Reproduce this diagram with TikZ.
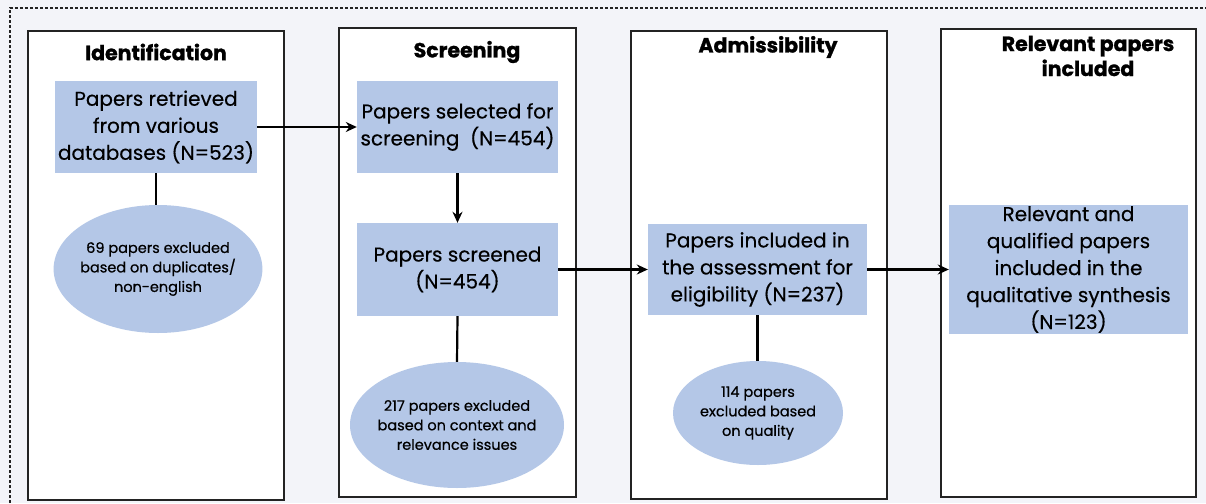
\documentclass[tikz,border=0pt]{standalone}
\usepackage{fontspec}
\setmainfont{Poppins}
\newfontfamily\boxfont{Poppins}[FakeBold=0.35]
\newfontfamily\exclfont{Poppins}[FakeBold=0.6]
\newfontfamily\headfont{Poppins}[BoldFeatures={FakeBold=1.2}]
\usetikzlibrary{arrows.meta,shapes.geometric}
\definecolor{boxblue}{RGB}{180,199,231}
\definecolor{bgcol}{RGB}{243,244,249}
\definecolor{frameline}{RGB}{35,35,35}
\begin{document}
\begin{tikzpicture}[x=1pt,y=-1pt,
  column/.style={draw=frameline, line width=2.2pt, fill=white, rectangle, inner sep=0pt},
  title/.style={font=\headfont\bfseries\fontsize{20.5}{25}\selectfont, align=center, inner sep=0pt},
  bluebox/.style={fill=boxblue, draw=none, rectangle, inner sep=0pt, align=center, font=\boxfont\fontsize{20}{27}\selectfont},
  excl/.style={fill=boxblue, draw=none, ellipse, inner sep=-4pt, align=center, font=\exclfont\fontsize{14.5}{19.5}\selectfont},
  arr/.style={line width=2.2pt, -{Stealth[length=11pt,width=10pt]}},
  link/.style={line width=2.2pt}
]
\useasboundingbox (0,0) rectangle (1206,503);
\fill[bgcol] (0,0) rectangle (1206,503);
\draw[frameline, line width=1.6pt, dash pattern=on 3pt off 2pt] (10,503) -- (10,8) -- (1206,8);

% columns
\node[column, minimum width=256pt, minimum height=469pt] (colA) at (156,265.5) {};
\node[column, minimum width=237pt, minimum height=469pt] (colB) at (457.5,262.5) {};
\node[column, minimum width=256pt, minimum height=468pt] (colC) at (759,265) {};
\node[column, minimum width=255pt, minimum height=468pt] (colD) at (1068.5,263) {};

% titles
\node[title] (tA) at (156,52) {Identification};
\node[title] (tB) at (467,52) {Screening};
\node[title] (tC) at (768,47) {Admissibility};
\node[title] (tD) at (1088,56) {Relevant papers\\included};

% blue boxes
\node[bluebox, minimum width=202pt, minimum height=92pt] (r1) at (156,127) {Papers retrieved\\from various\\databases (N=523)};
\node[bluebox, minimum width=201pt, minimum height=92pt] (r2) at (457.5,127) {Papers selected for\\screening\ \ (N=454)};
\node[bluebox, minimum width=201pt, minimum height=93pt] (r3) at (457.5,269.5) {Papers screened\\(N=454)};
\node[bluebox, minimum width=219pt, minimum height=91pt] (r4) at (757.5,269.5) {Papers included in\\the assessment for\\eligibility (N=237)};
\node[bluebox, minimum width=239pt, minimum height=129pt] (r5) at (1068.5,269.5) {Relevant and\\qualified papers\\included in the\\qualitative synthesis\\(N=123)};

% ellipses
\node[excl, minimum width=208pt, minimum height=128pt] (e1) at (158,269) {69 papers excluded\\based on duplicates/\\non-english};
\node[excl, minimum width=214pt, minimum height=126pt] (e2) at (457,425) {217 papers excluded\\based on context and\\relevance issues};
\node[excl, minimum width=170pt, minimum height=104pt] (e3) at (758,413) {114 papers\\excluded based\\on quality};

% connectors
\draw[arr] (r1.east) -- (r2.west);
\draw[arr] (r2.south) -- (r3.north);
\draw[arr] (r3.east) -- (r4.west);
\draw[arr] (r4.east) -- (r5.west);
\draw[link] (r1.south) -- (e1.north -| r1.south);
\draw[link] (r3.south) -- (e2.north);
\draw[link] (r4.south) -- (e3.north -| r4.south);
\end{tikzpicture}
\end{document}
